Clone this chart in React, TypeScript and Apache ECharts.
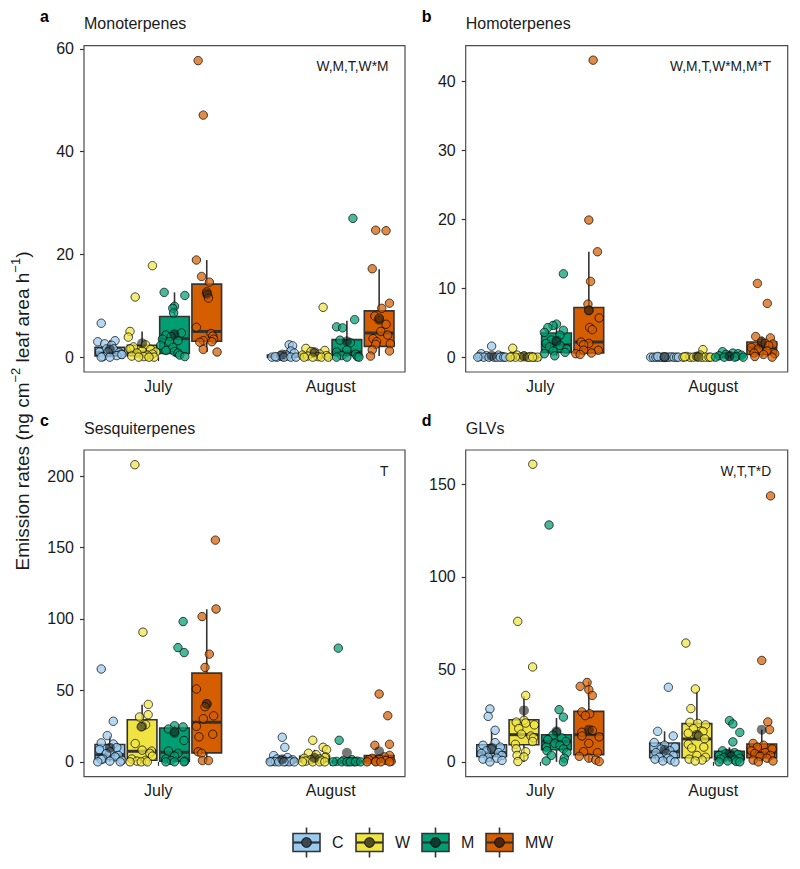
import React, { useEffect, useRef } from 'react';
import * as echarts from 'echarts';

// ---------- data ----------
const MONTHS = ['July', 'August'];
const GROUPS = ['C', 'W', 'M', 'MW'];
const PANEL_TITLES = ['Monoterpenes', 'Homoterpenes', 'Sesquiterpenes', 'GLVs'];
const PANEL_TAGS = ['a', 'b', 'c', 'd'];
const PANEL_NOTES = ['W,M,T,W*M', 'W,M,T,W*M,M*T', 'T', 'W,T,T*D'];
const Y_TICKS = [[0, 20, 40, 60], [0, 10, 20, 30, 40], [0, 50, 100, 150, 200], [0, 50, 100, 150]];
const Y_LIMITS = [[-2.89, 60.6], [-2.15, 45.2], [-10.4, 218.3], [-8.0, 168.5]];

// box stats [lower whisker, q1, median, q3, upper whisker]; order: July C,W,M,MW, August C,W,M,MW
const MONO_BOX = [
  [0, 0.25, 0.9, 1.9, 3.3], [0, 0.3, 1.0, 2.3, 5.0], [0.1, 0.7, 3.6, 7.9, 12.6], [1.0, 3.1, 5.0, 14.2, 18.9],
  [0, 0, 0.1, 0.4, 0.9], [0, 0, 0.2, 0.7, 1.7], [0, 0.4, 1.0, 3.4, 7.1], [0.2, 2.1, 4.7, 9.0, 17.1],
];
const HOMO_BOX = [
  [0, 0, 0, 0.1, 0.3], [0, 0, 0, 0.1, 0.3], [0.2, 0.7, 1.8, 3.5, 4.8], [0.4, 0.6, 2.2, 7.2, 15.3],
  [0, 0, 0, 0.02, 0.1], [0, 0, 0, 0.05, 0.3], [0, 0, 0.1, 0.3, 0.8], [0, 0.4, 1.4, 2.2, 3.0],
];
const SESQ_BOX = [
  [0, 1.6, 5.0, 12.1, 18.0], [0, 1.1, 7.4, 29.5, 40.0], [0, 0.4, 6.7, 23.7, 25.3], [0.9, 6.3, 27.7, 62.1, 106.8],
  [0, 0, 0.5, 2.0, 4.4], [0, 0.1, 1.0, 3.9, 8.5], [0, 0, 0.1, 0.6, 1.5], [0, 0.3, 1.3, 4.4, 4.5],
];
const GLV_BOX = [
  [0, 3.0, 5.0, 9.3, 16.5], [0, 9.3, 14.7, 22.8, 35.4], [0, 6.6, 11.1, 14.7, 23.7], [0.2, 3.9, 14.7, 27.3, 43.5],
  [0, 2.2, 5.5, 10.2, 16.5], [0.5, 2.2, 12.4, 20.7, 38.1], [0, 1.2, 2.9, 5.7, 7.9], [0, 2.2, 5.0, 9.7, 17.4],
];

// group means (dark dots)
const MONO_MEAN = [1.5, 2.7, 4.5, 12.4, 0.5, 1.0, 3.1, 7.3];
const HOMO_MEAN = [0.2, 0.1, 2.4, 6.8, 0, 0.1, 0.2, 2.1];
const SESQ_MEAN = [9.8, 24.9, 20.3, 40.5, 1.8, 2.8, 6.3, 7.4];
const GLV_MEAN = [7.6, 27.8, 16.5, 17.4, 6.6, 14.7, 4.5, 17.4];

// individual observations: [jitter offset (category units), value]
const MONO_PTS = [
  [[-0.05, 6.6], [-0.07, 3.0], [-0.03, 2.6], [0.03, 3.2], [0.01, 2.3], [-0.02, 1.6], [0.02, 1.6], [-0.06, 1.0], [-0.01, 1.0], [0.055, 0.9], [0.065, 0.6], [0.04, 0.3], [-0.04, 0.1], [-0.05, 0], [0.0, 0], [0.07, 0.5]],
  [[0.06, 17.8], [-0.04, 11.7], [-0.07, 5.0], [-0.08, 3.9], [0.02, 2.4], [-0.05, 2.0], [-0.07, 1.6], [0.05, 1.5], [0.0, 1.2], [0.08, 1.0], [-0.03, 0.8], [0.06, 0.6], [0.03, 0.4], [-0.06, 0.2], [0.01, 0.1], [0.07, 0], [-0.02, 0], [0.04, 0]],
  [[-0.06, 12.6], [0.06, 12.0], [0.0, 9.9], [-0.01, 9.5], [-0.005, 8.6], [0.04, 4.7], [-0.05, 4.3], [-0.02, 4.0], [-0.07, 3.5], [0.02, 3.2], [-0.03, 3.0], [-0.08, 2.3], [-0.01, 1.9], [-0.05, 1.3], [0.0, 1.1], [0.02, 0.8], [0.03, 0.4], [0.06, 0.1]],
  [[-0.05, 57.7], [-0.02, 47.1], [-0.06, 18.9], [-0.03, 15.7], [0.015, 14.6], [0.0, 12.7], [0.005, 12.1], [0.01, 11.5], [-0.06, 5.8], [0.025, 4.6], [0.035, 4.1], [0.04, 3.5], [-0.02, 3.2], [-0.04, 2.9], [-0.02, 1.5], [0.06, 1.0], [0.03, 3.0]],
  [[-0.06, 0], [-0.03, 0], [0.0, 0.1], [0.04, 2.4], [0.06, 2.2], [0.05, 1.2], [0.07, 0.8], [0.02, 0.5], [-0.01, 0.3], [0.03, 0.2], [-0.04, 0.1], [0.01, 0], [0.05, 0], [0.08, 0]],
  [[0.05, 9.7], [-0.05, 1.7], [0.06, 1.3], [-0.02, 1.1], [0.0, 0.8], [0.03, 0.6], [-0.07, 0.4], [0.07, 0.3], [-0.04, 0.2], [0.02, 0.1], [-0.06, 0], [-0.01, 0], [0.04, 0], [0.08, 0]],
  [[0.035, 27.0], [0.045, 7.3], [-0.06, 5.9], [-0.025, 5.7], [-0.04, 3.3], [0.02, 2.8], [0.0, 1.4], [-0.06, 1.0], [0.05, 0.6], [-0.03, 0.3], [0.06, 0.1], [-0.06, 0], [0.0, 0], [0.07, 0]],
  [[-0.02, 24.7], [0.04, 24.6], [-0.04, 17.2], [0.06, 10.5], [0.015, 9.5], [-0.025, 8.0], [0.0, 7.6], [0.04, 6.4], [0.01, 5.0], [0.05, 4.3], [-0.035, 3.6], [-0.015, 3.0], [-0.02, 2.5], [0.065, 2.6], [-0.04, 1.4], [0.06, 1.2], [-0.05, 0.2]],
];
const HOMO_PTS = [
  [[0.0, 1.6], [-0.06, 0.5], [0.04, 0.3], [-0.03, 0.2], [0.06, 0.1], [-0.07, 0.1], [-0.045, 0], [-0.015, 0], [0.015, 0], [0.03, 0], [0.05, 0], [0.07, 0], [-0.08, 0], [0.08, 0]],
  [[-0.065, 1.3], [-0.04, 0.3], [0.0, 0.2], [0.04, 0.1], [-0.07, 0.1], [-0.02, 0], [0.02, 0], [0.06, 0], [0.08, 0], [-0.05, 0], [0.03, 0], [-0.08, 0], [0.05, 0]],
  [[0.04, 12.1], [0.0, 4.8], [-0.02, 4.6], [-0.05, 4.3], [0.04, 3.9], [-0.07, 3.6], [0.02, 3.2], [-0.03, 2.5], [0.0, 2.3], [-0.06, 2.0], [0.02, 1.7], [-0.04, 1.5], [0.06, 1.2], [-0.02, 0.9], [0.05, 0.7], [-0.07, 0.5], [-0.01, 0.2]],
  [[0.025, 43.1], [0.0, 19.9], [0.05, 15.3], [0.01, 11.0], [-0.005, 7.7], [0.0, 6.8], [0.06, 5.7], [0.005, 4.3], [0.02, 4.0], [-0.045, 2.2], [0.0, 2.0], [-0.03, 1.8], [-0.03, 1.0], [0.055, 1.0], [-0.075, 0.5], [0.015, 0.6], [-0.05, 0.4]],
  [[-0.08, 0], [-0.065, 0], [-0.05, 0], [-0.035, 0], [-0.02, 0], [-0.005, 0], [0.01, 0], [0.025, 0], [0.04, 0.05], [0.055, 0], [0.07, 0], [-0.04, 0.1], [0.0, 0.05], [0.08, 0]],
  [[0.035, 1.1], [0.02, 0.3], [-0.06, 0.1], [0.0, 0.1], [-0.08, 0], [-0.04, 0], [-0.02, 0], [0.03, 0], [0.05, 0], [0.07, 0], [0.08, 0], [-0.07, 0.05], [0.01, 0]],
  [[-0.04, 0.8], [0.02, 0.6], [0.05, 0.5], [-0.02, 0.4], [0.07, 0.3], [-0.06, 0.2], [0.0, 0.1], [0.04, 0.1], [-0.08, 0], [-0.03, 0], [0.03, 0], [0.08, 0]],
  [[-0.025, 10.7], [0.032, 7.8], [-0.035, 3.0], [0.05, 2.8], [0.0, 2.3], [0.02, 2.0], [0.065, 1.9], [0.04, 1.7], [-0.06, 1.4], [-0.02, 1.2], [0.03, 0.9], [0.075, 0.5], [-0.045, 0.6], [0.01, 0.4], [-0.04, 0.1], [0.06, 0]],
];
const SESQ_PTS = [
  [[-0.05, 65.0], [0.02, 28.4], [-0.015, 18.4], [-0.05, 13.3], [0.02, 12.5], [0.04, 10.0], [-0.06, 8.6], [0.0, 7.0], [-0.02, 5.8], [0.05, 4.4], [0.03, 3.5], [-0.04, 2.0], [-0.05, 1.7], [0.07, 1.0], [0.0, 0.5], [0.06, 0], [-0.07, 0]],
  [[-0.042, 208], [0.005, 90.8], [0.036, 40.2], [0.035, 33.0], [-0.015, 31.4], [0.02, 26.0], [-0.005, 24.5], [-0.04, 12.8], [0.0, 8.2], [0.055, 7.5], [0.045, 6.0], [0.06, 4.0], [-0.06, 2.0], [0.02, 1.0], [-0.03, 0.5], [-0.07, 0], [-0.005, 0], [0.03, 0]],
  [[0.05, 98.2], [0.02, 80.0], [0.056, 76.5], [0.0, 25.3], [0.05, 24.5], [-0.035, 23.0], [0.0, 21.0], [0.055, 15.0], [-0.035, 7.6], [0.02, 6.0], [0.0, 4.0], [-0.05, 2.0], [-0.02, 1.0], [0.06, 0.5], [-0.05, 0], [0.0, 0], [0.055, 0]],
  [[0.05, 155.2], [0.054, 107.0], [-0.027, 101.7], [0.015, 75.4], [-0.01, 66.1], [-0.06, 51.0], [0.0, 40.7], [-0.01, 38.6], [0.04, 32.2], [-0.02, 30.2], [-0.06, 24.9], [0.035, 19.3], [-0.045, 17.5], [-0.05, 7.0], [-0.03, 6.0], [-0.025, 0.9], [0.01, 0.9]],
  [[0.0, 17.2], [0.015, 10.2], [-0.05, 4.4], [0.03, 3.0], [-0.03, 2.0], [0.06, 1.5], [-0.01, 1.0], [0.05, 0.6], [-0.06, 0.3], [0.02, 0.2], [-0.04, 0.1], [-0.07, 0], [-0.02, 0], [0.04, 0], [0.07, 0], [0.01, 0]],
  [[-0.01, 15.1], [0.05, 10.2], [0.07, 8.5], [-0.035, 6.0], [0.01, 5.0], [0.065, 3.5], [0.06, 3.0], [-0.06, 2.5], [0.03, 2.0], [-0.02, 1.5], [0.04, 1.0], [-0.05, 0.5], [-0.07, 0], [-0.01, 0], [0.03, 0], [0.06, 0]],
  [[-0.05, 79.6], [-0.045, 15.1], [0.03, 1.5], [-0.02, 1.0], [0.06, 0.5], [-0.06, 0.3], [0.01, 0.2], [0.04, 0.1], [-0.08, 0], [-0.03, 0], [0.0, 0], [0.02, 0], [0.05, 0], [0.08, 0]],
  [[0.0, 47.5], [0.05, 32.3], [0.06, 12.3], [-0.025, 11.6], [0.06, 4.5], [0.03, 3.5], [-0.04, 2.5], [0.0, 2.0], [-0.06, 1.5], [0.04, 1.0], [-0.02, 0.5], [0.07, 0.3], [-0.07, 0], [-0.02, 0], [0.01, 0], [0.06, 0]],
];
const GLV_PTS = [
  [[-0.01, 28.6], [-0.02, 24.6], [0.02, 17.1], [0.02, 10.4], [-0.05, 9.0], [0.05, 8.0], [0.0, 7.0], [-0.03, 6.0], [0.04, 5.0], [-0.06, 4.5], [0.06, 3.5], [-0.02, 2.5], [0.03, 2.0], [-0.05, 1.5], [0.06, 0.8], [-0.01, 0]],
  [[0.051, 160.8], [-0.036, 75.9], [0.05, 51.3], [0.01, 35.9], [0.0, 22.5], [-0.045, 21.5], [0.01, 21.0], [0.06, 20.0], [-0.03, 18.0], [-0.015, 15.0], [0.04, 14.0], [0.055, 13.0], [0.05, 11.0], [-0.05, 9.5], [-0.045, 7.0], [0.01, 5.5], [-0.04, 3.5], [0.0, 2.7], [-0.035, 0.2]],
  [[-0.043, 128.0], [0.015, 28.2], [0.04, 24.2], [0.0, 16.0], [-0.02, 14.5], [0.03, 13.0], [-0.05, 12.0], [0.055, 11.0], [-0.01, 10.0], [0.02, 9.0], [-0.06, 8.0], [0.04, 7.0], [-0.055, 6.0], [0.06, 5.0], [-0.03, 3.5], [0.045, 2.0], [-0.06, 0.5], [0.04, 0]],
  [[-0.01, 42.9], [-0.05, 40.8], [0.0, 39.0], [0.02, 35.9], [-0.04, 27.0], [0.005, 26.0], [-0.02, 25.0], [0.02, 17.0], [-0.04, 16.0], [-0.04, 14.0], [0.06, 13.5], [0.0, 10.0], [-0.03, 5.5], [0.05, 5.0], [-0.055, 3.0], [0.0, 2.0], [0.04, 1.0], [0.06, 0.2]],
  [[0.022, 40.3], [-0.04, 16.5], [0.05, 14.0], [-0.06, 10.5], [0.0, 9.0], [0.06, 8.0], [-0.02, 7.0], [0.03, 6.0], [-0.05, 5.0], [0.01, 4.5], [0.05, 3.5], [-0.03, 2.5], [0.02, 2.0], [-0.055, 1.5], [0.035, 1.0], [-0.01, 0.5], [0.06, 0]],
  [[-0.064, 64.2], [-0.009, 39.4], [-0.035, 28.8], [-0.04, 21.4], [0.005, 20.8], [0.05, 20.0], [-0.02, 18.0], [0.035, 16.5], [-0.05, 15.5], [0.01, 14.0], [0.045, 12.5], [-0.05, 9.5], [0.04, 8.0], [-0.03, 7.5], [0.0, 3.5], [0.05, 2.5], [-0.045, 1.5], [0.03, 1.0], [-0.01, 0.5]],
  [[0.0, 22.3], [0.02, 20.5], [0.06, 15.9], [0.02, 10.8], [-0.04, 6.0], [0.03, 5.0], [-0.02, 4.5], [0.05, 4.0], [-0.06, 3.5], [0.01, 3.0], [-0.03, 2.5], [0.06, 2.0], [-0.05, 1.5], [0.03, 1.0], [-0.01, 0.5], [0.04, 0.2], [-0.06, 0], [0.06, 0]],
  [[0.051, 143.7], [0.0, 54.8], [0.035, 21.6], [0.045, 17.4], [-0.05, 10.0], [0.01, 9.0], [-0.025, 8.0], [0.06, 7.0], [-0.06, 6.0], [0.02, 5.0], [-0.04, 4.5], [0.05, 3.5], [-0.01, 3.0], [0.03, 2.0], [-0.05, 1.0], [0.065, 0.5], [-0.02, 0]],
];

// ---------- layout / style ----------
const COLORS = ['#9ACBEE', '#F0E442', '#009E73', '#D55E00'];
const DODGE = [-0.281, -0.094, 0.094, 0.281];
const BOX_W = 0.172;
const X_MIN = 0.569;
const X_MAX = 2.431;
const FONT = "'Liberation Sans', Arial, Helvetica, sans-serif";
const INK = '#1a1a1a';
const STROKE = '#333333';
const GRIDS = [
  { left: 84, top: 45.7, width: 321, height: 326.3 },
  { left: 465.7, top: 45.7, width: 322, height: 326.3 },
  { left: 84, top: 450, width: 321, height: 326.7 },
  { left: 465.7, top: 450, width: 322, height: 326.7 },
];
const LEGEND_X = [293, 356, 422, 486];

const PANEL_BOX = [MONO_BOX, HOMO_BOX, SESQ_BOX, GLV_BOX];
const PANEL_MEAN = [MONO_MEAN, HOMO_MEAN, SESQ_MEAN, GLV_MEAN];
const PANEL_PTS = [MONO_PTS, HOMO_PTS, SESQ_PTS, GLV_PTS];

function renderBox(params: any, api: any) {
  const xv = api.value(0);
  const g = api.value(6);
  const lo = api.coord([xv, api.value(1)]);
  const q1 = api.coord([xv, api.value(2)]);
  const md = api.coord([xv, api.value(3)]);
  const q3 = api.coord([xv, api.value(4)]);
  const hi = api.coord([xv, api.value(5)]);
  const w = api.size([BOX_W, 0])[0];
  const x0 = q1[0];
  const ls = { stroke: STROKE, lineWidth: 1.6 };
  return {
    type: 'group',
    children: [
      { type: 'line', shape: { x1: x0, y1: hi[1], x2: x0, y2: q3[1] }, style: ls },
      { type: 'line', shape: { x1: x0, y1: q1[1], x2: x0, y2: lo[1] }, style: ls },
      { type: 'rect', shape: { x: x0 - w / 2, y: q3[1], width: w, height: Math.max(q1[1] - q3[1], 0) }, style: { fill: COLORS[g], stroke: STROKE, lineWidth: 1.6 } },
      { type: 'line', shape: { x1: x0 - w / 2, y1: md[1], x2: x0 + w / 2, y2: md[1] }, style: { stroke: STROKE, lineWidth: 3 } },
    ],
  };
}

function buildOption() {
  const grid = GRIDS.map((g) => ({ ...g, show: true, borderColor: '#4d4d4d', borderWidth: 1.2, backgroundColor: 'transparent', containLabel: false }));
  const xAxis = GRIDS.map((_, p) => ({
    type: 'value', gridIndex: p, min: X_MIN, max: X_MAX,
    axisLine: { show: false }, splitLine: { show: false },
    axisTick: { show: true, customValues: [1, 2], length: 4, lineStyle: { color: STROKE, width: 1.2 } },
    axisLabel: { show: true, customValues: [1, 2], formatter: (v: number) => MONTHS[Math.round(v) - 1], color: INK, fontSize: 16, fontFamily: FONT, margin: 6 },
  }));
  const yAxis = GRIDS.map((_, p) => ({
    type: 'value', gridIndex: p, min: Y_LIMITS[p][0], max: Y_LIMITS[p][1],
    axisLine: { show: false }, splitLine: { show: false },
    axisTick: { show: true, customValues: Y_TICKS[p], length: 4, lineStyle: { color: STROKE, width: 1.2 } },
    axisLabel: { show: true, customValues: Y_TICKS[p], color: INK, fontSize: 16, fontFamily: FONT, margin: 10 },
  }));

  const series: any[] = [];
  PANEL_BOX.forEach((boxes, p) => {
    series.push({
      type: 'custom', xAxisIndex: p, yAxisIndex: p, z: 2, silent: true, clip: true,
      renderItem: renderBox,
      encode: { x: 0, y: [1, 2, 3, 4, 5] },
      data: boxes.map((b, k) => [Math.floor(k / 4) + 1 + DODGE[k % 4], ...b, k % 4]),
    });
  });
  PANEL_PTS.forEach((groups, p) => {
    GROUPS.forEach((name, g) => {
      const data: number[][] = [];
      [0, 1].forEach((m) => {
        groups[m * 4 + g].forEach(([dx, v]) => data.push([m + 1 + DODGE[g] + dx, v]));
      });
      series.push({
        type: 'scatter', name, xAxisIndex: p, yAxisIndex: p, z: 3, silent: true,
        symbol: 'circle', symbolSize: 8.4, data,
        itemStyle: { color: COLORS[g], opacity: 0.72, borderColor: '#000', borderWidth: 1 },
      });
    });
  });
  PANEL_MEAN.forEach((means, p) => {
    series.push({
      type: 'scatter', xAxisIndex: p, yAxisIndex: p, z: 4, silent: true,
      symbol: 'circle', symbolSize: 10,
      data: means.map((v, k) => [Math.floor(k / 4) + 1 + DODGE[k % 4], v]),
      itemStyle: { color: 'rgba(20,20,20,0.72)' },
    });
  });

  const graphic: any[] = [];
  GRIDS.forEach((g, p) => {
    graphic.push({ type: 'text', x: g.left - 44, y: g.top - 29.2, style: { text: PANEL_TAGS[p], fontSize: 16, fontWeight: 'bold', fontFamily: FONT, fill: '#000', verticalAlign: 'middle' } });
    graphic.push({ type: 'text', x: g.left, y: g.top - 21.8, style: { text: PANEL_TITLES[p], fontSize: 16, fontFamily: FONT, fill: INK, verticalAlign: 'middle' } });
    graphic.push({ type: 'text', x: g.left + g.width - 16.5, y: g.top + 21, style: { text: PANEL_NOTES[p], fontSize: 13.8, fontFamily: FONT, fill: INK, align: 'right', verticalAlign: 'middle' } });
  });
  graphic.push({
    type: 'text', x: 22, y: 411, rotation: Math.PI / 2,
    style: {
      text: 'Emission rates (ng cm{sup|−2} leaf area h{sup|−1})',
      fontSize: 19, fontFamily: FONT, fill: INK, align: 'center', verticalAlign: 'middle',
      rich: { sup: { fontSize: 13, fontFamily: FONT, fill: INK, verticalAlign: 'top', lineHeight: 26 } },
    },
  });
  GROUPS.forEach((name, g) => {
    const lx = LEGEND_X[g];
    const cx = lx + 13.5;
    const cy = 842.5;
    graphic.push({ type: 'line', shape: { x1: cx, y1: 827.5, x2: cx, y2: 857.5 }, style: { stroke: STROKE, lineWidth: 1.6 } });
    graphic.push({ type: 'rect', shape: { x: lx, y: 833.5, width: 27, height: 18 }, style: { fill: COLORS[g], stroke: STROKE, lineWidth: 1.6 } });
    graphic.push({ type: 'line', shape: { x1: lx, y1: cy, x2: lx + 27, y2: cy }, style: { stroke: STROKE, lineWidth: 2.2 } });
    graphic.push({ type: 'circle', shape: { cx, cy, r: 4.8 }, style: { fill: COLORS[g], stroke: '#000', lineWidth: 1 } });
    graphic.push({ type: 'circle', shape: { cx, cy, r: 4.8 }, style: { fill: 'rgba(20,20,20,0.72)' } });
    graphic.push({ type: 'text', x: lx + 39, y: cy, style: { text: name, fontSize: 16, fontFamily: FONT, fill: INK, verticalAlign: 'middle' } });
  });

  return { animation: false, backgroundColor: '#ffffff', grid, xAxis, yAxis, series, graphic };
}

export default function App() {
  const ref = useRef<HTMLDivElement>(null);
  useEffect(() => {
    if (!ref.current) return;
    const chart = echarts.init(ref.current, undefined, { renderer: 'svg' });
    chart.setOption(buildOption() as any);
    return () => chart.dispose();
  }, []);
  return <div ref={ref} style={{ position: 'absolute', left: 0, top: 0, width: 800, height: 869 }} />;
}
